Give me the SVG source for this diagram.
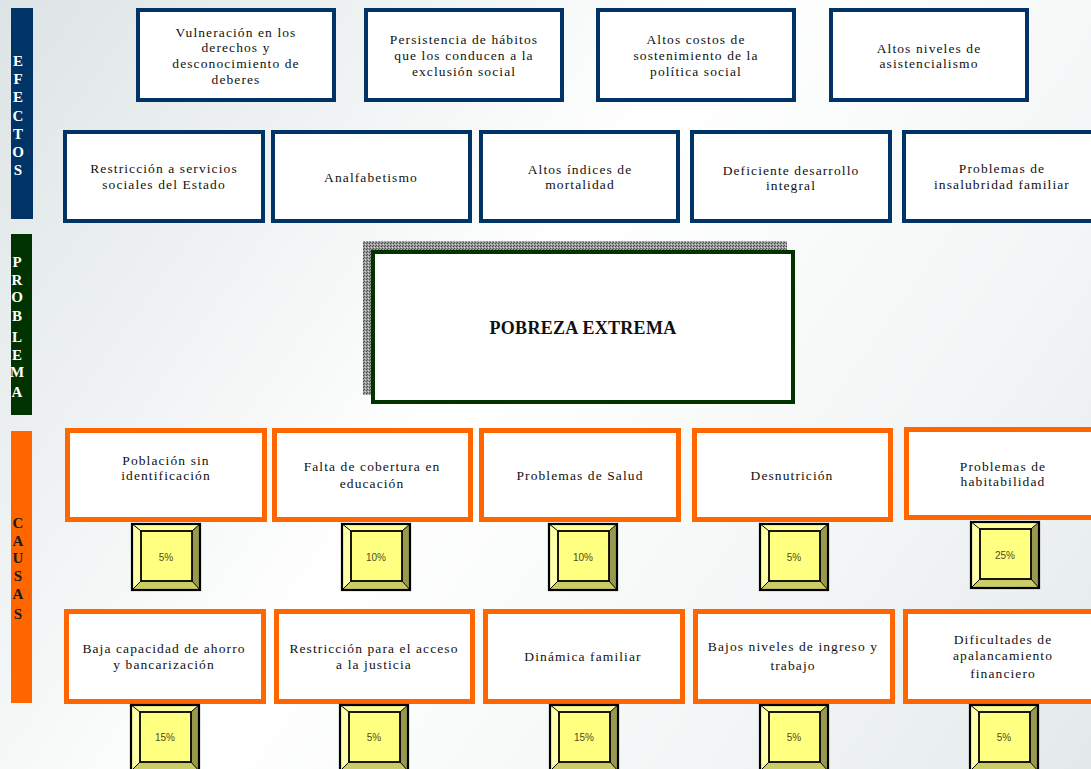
<svg xmlns="http://www.w3.org/2000/svg" xmlns:xlink="http://www.w3.org/1999/xlink" width="1091" height="769" viewBox="0 0 1091 769">
<style>
.eff{fill:#fff;stroke:#003366;stroke-width:4}
.cau{fill:#fff;stroke:#FF6600;stroke-width:5}
.t{font-family:"Liberation Serif",serif;font-size:13.5px;letter-spacing:1.1px;fill:#111;text-anchor:middle}
.side{font-family:"Liberation Serif",serif;font-size:15px;font-weight:bold;text-anchor:middle}
.pct{font-family:"Liberation Sans",sans-serif;font-size:10px;fill:#4d4d1a;text-anchor:middle}
</style>
<defs>
<linearGradient id="bg" x1="0" y1="0" x2="1091" y2="769" gradientUnits="userSpaceOnUse">
<stop offset="0" stop-color="#dde4e5"/>
<stop offset="0.45" stop-color="#ffffff"/>
<stop offset="0.75" stop-color="#f3f6f6"/>
<stop offset="1" stop-color="#e3e9ea"/>
</linearGradient>
<pattern id="dither" width="3" height="3" patternUnits="userSpaceOnUse">
<rect width="3" height="3" fill="#9a9a9a"/>
<rect width="1" height="1" fill="#444"/>
<rect x="2" y="1" width="1" height="1" fill="#d8d8d8"/>
<rect x="1" y="2" width="1" height="1" fill="#555"/>
</pattern>
<g id="bevel">
<polygon points="0,0 70,0 61,8 10,8" fill="#FFFF99"/>
<polygon points="0,0 10,8 10,58 0,68" fill="#FFFFAA"/>
<polygon points="70,0 70,68 61,58 61,8" fill="#99994D"/>
<polygon points="0,68 10,58 61,58 70,68" fill="#CCCC66"/>
<line x1="0" y1="0" x2="10" y2="8" stroke="#000" stroke-width="1"/>
<line x1="70" y1="0" x2="61" y2="8" stroke="#000" stroke-width="1"/>
<line x1="0" y1="68" x2="10" y2="58" stroke="#000" stroke-width="1"/>
<line x1="70" y1="68" x2="61" y2="58" stroke="#000" stroke-width="1"/>
<rect x="10" y="8" width="51" height="50" fill="#FFFF80" stroke="#000" stroke-width="1.8"/>
<rect x="1" y="1" width="68" height="66" fill="none" stroke="#000" stroke-width="2.2"/>
</g>
</defs>
<rect width="1091" height="769" fill="url(#bg)"/>

<g id="side-efectos">
<rect x="11" y="8" width="22" height="211" fill="#003366"/>
<g class="side" fill="#fff">
<text x="18" y="66">E</text><text x="18" y="84">F</text><text x="18" y="102">E</text><text x="18" y="121">C</text><text x="18" y="139">T</text><text x="18" y="157">O</text><text x="18" y="175">S</text>
</g>
</g>
<g id="side-problema">
<rect x="11" y="234" width="21" height="181" fill="#003300"/>
<g class="side" fill="#fff">
<text x="17" y="267">P</text><text x="17" y="285">R</text><text x="17" y="302">O</text><text x="17" y="321">B</text><text x="17" y="342">L</text><text x="17" y="360">E</text><text x="17" y="377">M</text><text x="17" y="397">A</text>
</g>
</g>
<g id="side-causas">
<rect x="11" y="431" width="21" height="272" fill="#FF6600"/>
<g class="side" fill="#1a1a1a">
<text x="18" y="528">C</text><text x="18" y="546">A</text><text x="18" y="563">U</text><text x="18" y="581">S</text><text x="18" y="599">A</text><text x="18" y="619">S</text>
</g>
</g>

<g id="connectors"></g>

<g id="efecto-1"><rect class="eff" x="138" y="10" width="196" height="90"/>
<text class="t" x="236" y="36.5">Vulneración en los</text><text class="t" x="236" y="52">derechos y</text><text class="t" x="236" y="68">desconocimiento de</text><text class="t" x="236" y="83.5">deberes</text></g>
<g id="efecto-2"><rect class="eff" x="366" y="10" width="196" height="90"/>
<text class="t" x="464" y="44">Persistencia de hábitos</text><text class="t" x="464" y="60">que los conducen a la</text><text class="t" x="464" y="76">exclusión social</text></g>
<g id="efecto-3"><rect class="eff" x="598" y="10" width="196" height="90"/>
<text class="t" x="696" y="44">Altos costos de</text><text class="t" x="696" y="60">sostenimiento de la</text><text class="t" x="696" y="76">política social</text></g>
<g id="efecto-4"><rect class="eff" x="831" y="10" width="196" height="90"/>
<text class="t" x="929" y="53">Altos niveles de</text><text class="t" x="929" y="68">asistencialismo</text></g>

<g id="efecto-5"><rect class="eff" x="65" y="132" width="198" height="89"/>
<text class="t" x="164" y="173">Restricción a servicios</text><text class="t" x="164" y="189">sociales del Estado</text></g>
<g id="efecto-6"><rect class="eff" x="273" y="132" width="197" height="89"/>
<text class="t" x="371" y="181.5">Analfabetismo</text></g>
<g id="efecto-7"><rect class="eff" x="481" y="132" width="197" height="89"/>
<text class="t" x="580" y="173.5">Altos índices de</text><text class="t" x="580" y="189">mortalidad</text></g>
<g id="efecto-8"><rect class="eff" x="692" y="132" width="198" height="89"/>
<text class="t" x="791" y="174.5">Deficiente desarrollo</text><text class="t" x="791" y="190">integral</text></g>
<g id="efecto-9"><rect class="eff" x="904" y="132" width="196" height="89"/>
<text class="t" x="1002" y="173">Problemas de</text><text class="t" x="1002" y="188.5">insalubridad familiar</text></g>

<g id="problema">
<rect x="363" y="241" width="424" height="154" fill="url(#dither)"/>
<rect x="373" y="252" width="420" height="150" fill="#fff" stroke="#003300" stroke-width="4"/>
<text x="583" y="334" font-family="Liberation Serif, serif" font-size="18" font-weight="bold" letter-spacing="0.3" fill="#111" text-anchor="middle">POBREZA EXTREMA</text>
</g>

<g id="causa-1"><rect class="cau" x="67.5" y="430.5" width="197" height="89"/>
<text class="t" x="166" y="464.5">Población sin</text><text class="t" x="166" y="480">identificación</text>
<use xlink:href="#bevel" href="#bevel" x="131" y="523"/><text class="pct" x="166" y="561">5%</text></g>
<g id="causa-2"><rect class="cau" x="274.5" y="430.5" width="196" height="89"/>
<text class="t" x="372" y="471">Falta de cobertura en</text><text class="t" x="372" y="488">educación</text>
<use xlink:href="#bevel" href="#bevel" x="341" y="523"/><text class="pct" x="376" y="561">10%</text></g>
<g id="causa-3"><rect class="cau" x="481.5" y="430.5" width="197" height="89"/>
<text class="t" x="580" y="479.5">Problemas de Salud</text>
<use xlink:href="#bevel" href="#bevel" x="548" y="523"/><text class="pct" x="583" y="561">10%</text></g>
<g id="causa-4"><rect class="cau" x="694.5" y="430.5" width="196" height="89"/>
<text class="t" x="792" y="479.5">Desnutrición</text>
<use xlink:href="#bevel" href="#bevel" x="759" y="523"/><text class="pct" x="794" y="561">5%</text></g>
<g id="causa-5"><rect class="cau" x="906.5" y="429.5" width="195" height="88"/>
<text class="t" x="1003" y="471">Problemas de</text><text class="t" x="1003" y="486">habitabilidad</text>
<use xlink:href="#bevel" href="#bevel" x="970" y="521"/><text class="pct" x="1005" y="559">25%</text></g>

<g id="causa-6"><rect class="cau" x="66.5" y="611.5" width="197" height="90"/>
<text class="t" x="164" y="653">Baja capacidad de ahorro</text><text class="t" x="164" y="668.5">y bancarización</text>
<use xlink:href="#bevel" href="#bevel" x="130" y="704"/><text class="pct" x="165" y="741">15%</text></g>
<g id="causa-7"><rect class="cau" x="276.5" y="611.5" width="196" height="90"/>
<text class="t" x="374" y="653">Restricción para el acceso</text><text class="t" x="374" y="668.5">a la justicia</text>
<use xlink:href="#bevel" href="#bevel" x="339" y="704"/><text class="pct" x="374" y="741">5%</text></g>
<g id="causa-8"><rect class="cau" x="485.5" y="611.5" width="197" height="90"/>
<text class="t" x="583" y="661">Dinámica familiar</text>
<use xlink:href="#bevel" href="#bevel" x="549" y="704"/><text class="pct" x="584" y="741">15%</text></g>
<g id="causa-9"><rect class="cau" x="695.5" y="611.5" width="197" height="90"/>
<text class="t" x="793" y="651">Bajos niveles de ingreso y</text><text class="t" x="793" y="669.5">trabajo</text>
<use xlink:href="#bevel" href="#bevel" x="759" y="704"/><text class="pct" x="794" y="741">5%</text></g>
<g id="causa-10"><rect class="cau" x="905.5" y="611.5" width="195" height="90"/>
<text class="t" x="1003" y="644">Dificultades de</text><text class="t" x="1003" y="659.5">apalancamiento</text><text class="t" x="1003" y="678">financiero</text>
<use xlink:href="#bevel" href="#bevel" x="969" y="704"/><text class="pct" x="1004" y="741">5%</text></g>
</svg>
